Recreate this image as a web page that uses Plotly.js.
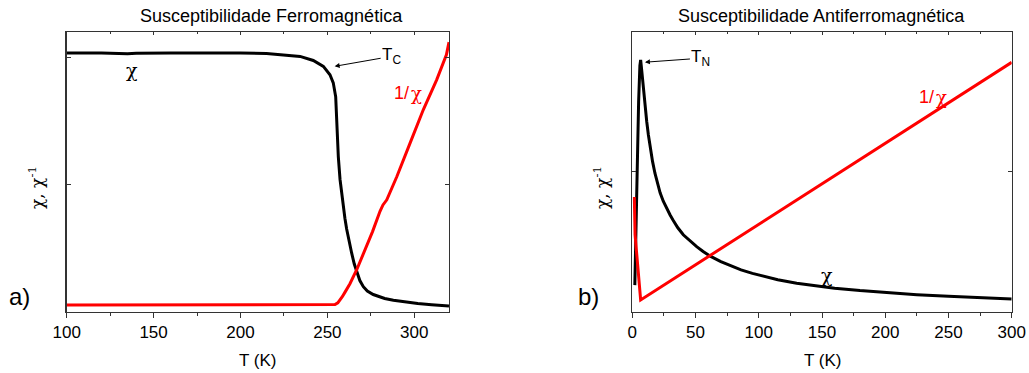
<!DOCTYPE html>
<html>
<head>
<meta charset="utf-8">
<script src="https://cdn.plot.ly/plotly-3.0.1.min.js"></script>
<style>html,body{margin:0;padding:0;background:#fff;}#chart{width:1029px;height:373px;}</style>
</head>
<body>
<div id="chart"></div>
<script>
// Panel a) ferromagnetic
var ferroT = [100,120,135,140,160,180,200,215,225,234.3,241.9,247.7,251.5,253.4,254.8,255.4,256.3,257.3,258.2,259.2,260.1,261.1,262.5,264,265.5,266.9,268.7,270.7,273,276.4,279.5,283,288,295,302,310,320];
var ferroChi = [2.035,2.035,2.029,2.032,2.034,2.036,2.035,2.03,2.02,2.008,1.976,1.93,1.864,1.80,1.69,1.48,1.22,1.04,0.93,0.83,0.735,0.65,0.55,0.46,0.375,0.31,0.245,0.197,0.163,0.135,0.118,0.104,0.09,0.076,0.065,0.055,0.045];
var ferroInvT = [100,150,200,240,252,254.4,256,257.3,258.6,260,263,266.9,272.6,276,280.3,282,284.2,290,297.6,305.2,312.9,316.7,318.5,320];
var ferroInv = [0.052,0.052,0.052,0.052,0.053,0.056,0.07,0.092,0.118,0.15,0.22,0.33,0.51,0.63,0.79,0.84,0.88,1.063,1.326,1.588,1.824,1.956,2.02,2.12];

// Panel b) antiferromagnetic
var antiT = [2,2.5,3,4,5,6,6.6,7.5,8.7,10,11.4,12.7,14,16,17.9,20,22,24.5,27.2,30,32.4,36,40.3,45,50.9,56,62,70,78,86,95,104,115,130,145,160,180,200,225,250,275,300];
var antiChi = [0.19,0.45,0.75,1.15,1.5,1.76,1.80,1.72,1.59,1.47,1.36,1.265,1.18,1.075,0.99,0.915,0.85,0.79,0.735,0.69,0.652,0.60,0.55,0.51,0.465,0.43,0.395,0.358,0.327,0.299,0.274,0.252,0.229,0.204,0.184,0.168,0.151,0.137,0.122,0.11,0.1,0.091];
var antiInvT = [1.6,2.2,6.6,100,200,300];
var antiInv = [0.82,0.55,0.084,0.625,1.204,1.783];

var FONT = 'Liberation Sans, Arial, Helvetica, sans-serif';
var CHIFONT = 'DejaVu Serif, Liberation Serif, serif';
var AX = '#333333';

var traces = [
  {x: ferroT, y: ferroChi, xaxis:'x', yaxis:'y', mode:'lines', line:{color:'#000000', width:3}, hoverinfo:'skip'},
  {x: ferroInvT, y: ferroInv, xaxis:'x', yaxis:'y', mode:'lines', line:{color:'#ff0000', width:3}, hoverinfo:'skip'},
  {x: antiT, y: antiChi, xaxis:'x2', yaxis:'y2', mode:'lines', line:{color:'#000000', width:3}, hoverinfo:'skip'},
  {x: antiInvT, y: antiInv, xaxis:'x2', yaxis:'y2', mode:'lines', line:{color:'#ff0000', width:3}, hoverinfo:'skip'},
  {x:[null], y:[null], xaxis:'x3', yaxis:'y3', mode:'lines', showlegend:false, hoverinfo:'skip'},
  {x:[null], y:[null], xaxis:'x4', yaxis:'y4', mode:'lines', showlegend:false, hoverinfo:'skip'}
];

function xax(domain, range, anchor) {
  return {
    domain: domain, range: range, anchor: anchor,
    showgrid:false, zeroline:false,
    showline:true, linecolor:AX, linewidth:1.3, mirror:true,
    ticks:'outside', ticklen:5, tickwidth:1, tickcolor:AX, dtick:50, tick0:0,
    minor:{dtick:25, ticks:'outside', ticklen:3, tickwidth:1, tickcolor:AX},
    tickfont:{family:FONT, size:17, color:'#000'}, fixedrange:true
  };
}
function xtop(over, range, anchor) {
  return {
    overlaying: over, side:'top', anchor: anchor, range: range,
    showgrid:false, zeroline:false, showline:false, showticklabels:false,
    ticks:'inside', ticklen:3, tickwidth:1, tickcolor:AX, dtick:50, tick0:0,
    minor:{dtick:25, ticks:'inside', ticklen:2, tickwidth:1, tickcolor:AX}, fixedrange:true
  };
}
function yax(domain, range, anchor) {
  return {
    domain: domain, range: range, anchor: anchor,
    showgrid:false, zeroline:false,
    showline:true, linecolor:AX, linewidth:1.3, mirror:true,
    ticks:'inside', ticklen:4, tickwidth:1, tickcolor:AX,
    tickvals:[0,1,2], showticklabels:false, fixedrange:true
  };
}
function yright(over, range, anchor) {
  return {
    overlaying: over, side:'right', anchor: anchor, range: range,
    showgrid:false, zeroline:false, showline:false, showticklabels:false,
    ticks:'inside', ticklen:4, tickwidth:1, tickcolor:AX,
    tickvals:[0,1,2], fixedrange:true
  };
}

var yd = [1-311.7/373, 1-32/373];
var layout = {
  width:1029, height:373,
  margin:{l:0, r:0, t:0, b:0},
  paper_bgcolor:'#ffffff', plot_bgcolor:'#ffffff',
  showlegend:false,
  font:{family:FONT, color:'#000'},
  xaxis: xax([66.7/1029, 449/1029], [100,320], 'y'),
  yaxis: yax(yd, [0,2.2], 'x'),
  xaxis2: xax([632.3/1029, 1011.7/1029], [0,300], 'y2'),
  yaxis2: yax(yd, [0,2.0], 'x2'),
  xaxis3: xtop('x', [100,320], 'y3'),
  yaxis3: yright('y', [0,2.2], 'x3'),
  xaxis4: xtop('x2', [0,300], 'y4'),
  yaxis4: yright('y2', [0,2.0], 'x4'),
  annotations: [
    {xref:'paper', yref:'paper', x:271/1029, y:1-16/373, text:'Susceptibilidade Ferromagnética', showarrow:false, font:{size:18, family:FONT}, xanchor:'center', yanchor:'middle'},
    {xref:'paper', yref:'paper', x:821.5/1029, y:1-16/373, text:'Susceptibilidade Antiferromagnética', showarrow:false, font:{size:18, family:FONT}, xanchor:'center', yanchor:'middle'},
    {xref:'paper', yref:'paper', x:257.9/1029, y:1-360/373, text:'T (K)', showarrow:false, font:{size:17, family:FONT}, xanchor:'center', yanchor:'middle'},
    {xref:'paper', yref:'paper', x:822/1029, y:1-360/373, text:'T (K)', showarrow:false, font:{size:17, family:FONT}, xanchor:'center', yanchor:'middle'},
    {xref:'paper', yref:'paper', x:36/1029, y:1-188/373, text:'χ, χ<sup>-1</sup>', textangle:-90, showarrow:false, font:{size:17, family:CHIFONT}, xanchor:'center', yanchor:'middle'},
    {xref:'paper', yref:'paper', x:601/1029, y:1-188/373, text:'χ, χ<sup>-1</sup>', textangle:-90, showarrow:false, font:{size:17, family:CHIFONT}, xanchor:'center', yanchor:'middle'},
    {xref:'paper', yref:'paper', x:19/1029, y:1-296/373, text:'a)', showarrow:false, font:{size:24, family:FONT}, xanchor:'center', yanchor:'middle'},
    {xref:'paper', yref:'paper', x:588/1029, y:1-296/373, text:'b)', showarrow:false, font:{size:24, family:FONT}, xanchor:'center', yanchor:'middle'},
    {xref:'x', yref:'y', x:137.6, y:1.9, text:'χ', showarrow:false, font:{size:19, family:CHIFONT, color:'#000'}},
    {xref:'x', yref:'y', x:297.6, y:1.72, text:'1/', showarrow:false, xanchor:'right', borderpad:0, xshift:0, font:{size:18, family:FONT, color:'#ff0000'}},
    {xref:'x', yref:'y', x:297.6, y:1.72, text:'χ', showarrow:false, xanchor:'left', borderpad:0, xshift:0, font:{size:18, family:CHIFONT, color:'#ff0000'}},
    {xref:'x', yref:'y', x:254.2, y:1.93, text:'T<sub>C</sub>', showarrow:true, arrowhead:2, arrowsize:1, arrowwidth:1, arrowcolor:'#000', ax:57, ay:-10, font:{size:17, family:FONT, color:'#000'}},
    {xref:'x2', yref:'y2', x:239.3, y:1.533, text:'1/', showarrow:false, xanchor:'right', borderpad:0, xshift:0, font:{size:18, family:FONT, color:'#ff0000'}},
    {xref:'x2', yref:'y2', x:239.3, y:1.533, text:'χ', showarrow:false, xanchor:'left', borderpad:0, xshift:0, font:{size:18, family:CHIFONT, color:'#ff0000'}},
    {xref:'x2', yref:'y2', x:153.9, y:0.263, text:'χ', showarrow:false, font:{size:19, family:CHIFONT, color:'#000'}},
    {xref:'x2', yref:'y2', x:10, y:1.784, text:'T<sub>N</sub>', showarrow:true, arrowhead:2, arrowsize:1, arrowwidth:1, arrowcolor:'#000', ax:56, ay:-4, font:{size:17, family:FONT, color:'#000'}}
  ]
};

Plotly.newPlot('chart', traces, layout, {staticPlot:true, displayModeBar:false});
</script>
</body>
</html>
